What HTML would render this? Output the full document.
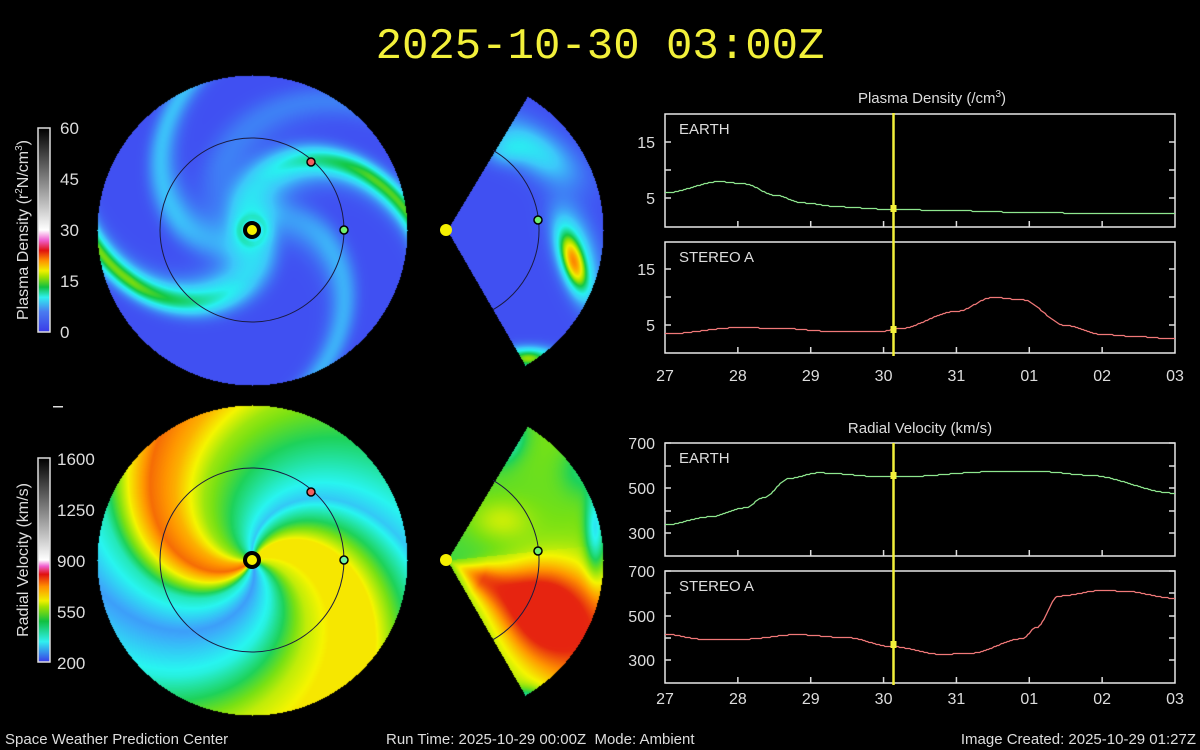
<!DOCTYPE html>
<html><head><meta charset="utf-8">
<style>
html,body{margin:0;padding:0;background:#000;}
#w{position:relative;width:1200px;height:750px;background:#000;overflow:hidden;font-family:"Liberation Sans",sans-serif;color:#ddd;}
canvas{position:absolute;left:0;top:0;}
svg{position:absolute;left:0;top:0;}
</style></head><body>
<div id="w">
<canvas id="c" width="1200" height="750"></canvas>
<svg id="s" width="1200" height="750" xmlns="http://www.w3.org/2000/svg" font-family="Liberation Sans, sans-serif">
<text x="600" y="58" fill="#f2f03a" font-family="Liberation Mono, monospace" font-size="44" text-anchor="middle">2025-10-30 03:00Z</text>
<defs>
<linearGradient id="gd" x1="0" y1="1" x2="0" y2="0">
<stop offset="0" stop-color="#3a3ae8"/><stop offset="0.1" stop-color="#4a7cf0"/><stop offset="0.17" stop-color="#30f0f0"/><stop offset="0.22" stop-color="#10c040"/><stop offset="0.27" stop-color="#a0e000"/><stop offset="0.3" stop-color="#f0f000"/><stop offset="0.35" stop-color="#ff9000"/><stop offset="0.4" stop-color="#e01010"/><stop offset="0.45" stop-color="#f060d0"/><stop offset="0.5" stop-color="#ffffff"/><stop offset="1" stop-color="#000000"/>
</linearGradient>
<linearGradient id="gv" x1="0" y1="1" x2="0" y2="0">
<stop offset="0" stop-color="#3a3ae8"/><stop offset="0.1" stop-color="#30f0f0"/><stop offset="0.2" stop-color="#10c040"/><stop offset="0.27" stop-color="#a0e000"/><stop offset="0.3" stop-color="#f0f000"/><stop offset="0.37" stop-color="#ff9000"/><stop offset="0.43" stop-color="#e01010"/><stop offset="0.47" stop-color="#f060d0"/><stop offset="0.5" stop-color="#ffffff"/><stop offset="1" stop-color="#000000"/>
</linearGradient>
</defs>
<rect x="38" y="128" width="12" height="204" fill="url(#gd)" stroke="#ddd" stroke-width="1.5"/>
<g fill="#ddd" font-size="17">
<text x="60" y="134">60</text><text x="60" y="185">45</text><text x="60" y="236">30</text><text x="60" y="287">15</text><text x="60" y="338">0</text>
</g>
<text transform="translate(28,230) rotate(-90)" fill="#ddd" font-size="16" text-anchor="middle">Plasma Density (r<tspan dy="-6" font-size="10">2</tspan><tspan dy="6">N/cm</tspan><tspan dy="-6" font-size="10">3</tspan><tspan dy="6">)</tspan></text>
<rect x="53" y="406" width="10" height="1.5" fill="#ddd"/>
<rect x="38" y="458" width="12" height="204" fill="url(#gv)" stroke="#ddd" stroke-width="1.5"/>
<g fill="#ddd" font-size="17">
<text x="57" y="465">1600</text><text x="57" y="516">1250</text><text x="57" y="567">900</text><text x="57" y="618">550</text><text x="57" y="669">200</text>
</g>
<text transform="translate(28,560) rotate(-90)" fill="#ddd" font-size="16" text-anchor="middle">Radial Velocity (km/s)</text>
<g fill="none" stroke="#1a1a40" stroke-width="1">
<circle cx="252" cy="230" r="92"/><circle cx="252" cy="560" r="92"/>
<path d="M 493 150.3 A 92 92 0 0 1 493 309.7"/>
<path d="M 493 480.3 A 92 92 0 0 1 493 639.7"/>
</g>
<g stroke="#000" stroke-width="1.5">
<circle cx="252" cy="230" r="7" fill="#f5f000" stroke-width="4"/>
<circle cx="311" cy="162" r="4" fill="#f06060"/>
<circle cx="344" cy="230" r="4" fill="#70f070"/>
<circle cx="538" cy="220" r="4" fill="#70f070"/>
<circle cx="252" cy="560" r="7" fill="#f5f000" stroke-width="4"/>
<circle cx="311" cy="492" r="4" fill="#f06060"/>
<circle cx="344" cy="560" r="4" fill="#70f0a0"/>
<circle cx="538" cy="551" r="4" fill="#70f070"/>
</g>
<circle cx="446" cy="230" r="6" fill="#f5f000"/>
<circle cx="446" cy="560" r="6" fill="#f5f000"/>
<g id="plots"></g>
<g fill="#ddd" font-size="15">
<text x="932" y="103" text-anchor="middle">Plasma Density (/cm<tspan dy="-6" font-size="10">3</tspan><tspan dy="6">)</tspan></text>
<text x="920" y="433" text-anchor="middle">Radial Velocity (km/s)</text>
<text x="5" y="744">Space Weather Prediction Center</text>
<text x="386" y="744">Run Time: 2025-10-29 00:00Z&#160;&#160;Mode: Ambient</text>
<text x="1196" y="744" text-anchor="end">Image Created: 2025-10-29 01:27Z</text>
</g>
</svg>
</div>
<script>
(function(){
var cv=document.getElementById('c'),ctx=cv.getContext('2d');
var img=ctx.createImageData(1200,750),D=img.data;
function lerpmap(stops,v){
 if(v<=stops[0][0])return stops[0][1];
 for(var i=1;i<stops.length;i++){if(v<=stops[i][0]){var a=stops[i-1],b=stops[i],t=(v-a[0])/(b[0]-a[0]);return [a[1][0]+(b[1][0]-a[1][0])*t,a[1][1]+(b[1][1]-a[1][1])*t,a[1][2]+(b[1][2]-a[1][2])*t];}}
 return stops[stops.length-1][1];}
var dmap=[[0,[50,50,230]],[3,[64,80,242]],[6,[60,200,250]],[8,[40,240,240]],[11,[20,200,70]],[13,[150,225,0]],[15,[240,240,0]],[18,[255,150,0]],[22,[225,30,20]],[27,[240,100,210]],[30,[255,255,255]],[60,[0,0,0]]];
var vmap=[[200,[55,55,235]],[300,[60,170,250]],[350,[40,245,240]],[430,[30,210,90]],[480,[120,225,20]],[550,[245,245,0]],[620,[255,150,0]],[700,[230,40,15]],[800,[230,20,20]],[870,[245,120,220]],[900,[255,255,255]],[1600,[0,0,0]]];
function put(x,y,c){var i=(y*1200+x)*4;D[i]=c[0];D[i+1]=c[1];D[i+2]=c[2];D[i+3]=255;}
function angd(a){a=a%(2*Math.PI);if(a>Math.PI)a-=2*Math.PI;if(a<-Math.PI)a+=2*Math.PI;return a;}
var k=0.0117,R=155;
for(var y=230-R;y<=230+R;y++)for(var x=252-R;x<=252+R;x++){
 var dx=x-252,dy=y-230,r=Math.sqrt(dx*dx+dy*dy);if(r>R)continue;
 var th=Math.atan2(dy,dx),ph=th-k*r,v=3;
 var arms=[[69,5.5,18,1],[249,5,18,1],[140,2.8,22,0],[320,2.4,22,0],[200,1.2,30,0]];
 for(var j=0;j<arms.length;j++){var a=arms[j];var d=Math.abs(angd(ph-a[0]*Math.PI/180))*Math.max(r,12);
  var g=Math.exp(-Math.pow(d/a[2],2));
  if(a[3]){var grow=Math.min(1,Math.max(0,(r-50)/80));v+=a[1]*g*grow+4*Math.exp(-Math.pow(d/26,2))*Math.min(1,r/15);}
  else v+=a[1]*g*Math.min(1,0.5+r/150);}
 put(x,y,lerpmap(dmap,v));}
var vph=[[0,520],[40,360],[75,290],[105,380],[125,560],[140,650],[160,600],[185,500],[215,430],[240,370],[262,320],[285,440],[305,560],[340,560],[360,520]];
var vs=vph.map(function(s){return [s[0],[s[1],0,0]];});
for(var y=560-R;y<=560+R;y++)for(var x=252-R;x<=252+R;x++){
 var dx=x-252,dy=y-560,r=Math.sqrt(dx*dx+dy*dy);if(r>R)continue;
 var th=Math.atan2(dy,dx),ph=(th-0.0105*r)*180/Math.PI;ph=((ph%360)+360)%360;
 var v=lerpmap(vs,ph)[0];
 put(x,y,lerpmap(vmap,v));}
var a1=-59*Math.PI/180,a2=60*Math.PI/180,WR=156;
function blob(x,y,cx,cy,wx,wy,rot){var c=Math.cos(rot),s=Math.sin(rot);var u=(x-cx)*c+(y-cy)*s,w=-(x-cx)*s+(y-cy)*c;return Math.exp(-(u*u/(wx*wx)+w*w/(wy*wy)));}
for(var y=60;y<=400;y++)for(var x=447;x<=605;x++){
 var dx=x-447,dy=y-230,r=Math.sqrt(dx*dx+dy*dy),th=Math.atan2(dy,dx);if(r>WR||th<a1||th>a2)continue;
 var v=3+4*blob(x,y,535,150,45,20,0.6)+2.5*blob(x,y,505,150,20,14,0)+12*blob(x,y,573,262,11,30,-0.3)+4*blob(x,y,576,250,18,45,-0.3)+10*blob(x,y,528,358,25,10,0);
 put(x,y,lerpmap(dmap,v));}
for(var y=390;y<=730;y++)for(var x=447;x<=605;x++){
 var dx=x-447,dy=y-560,r=Math.sqrt(dx*dx+dy*dy),th=Math.atan2(dy,dx);if(r>WR||th<a1||th>a2)continue;
 var ray=Math.exp(-Math.pow((th-0.5)/0.4,2));
 var v=480+190*ray*Math.min(1,r/40)+140*blob(x,y,545,610,40,50,0)+60*blob(x,y,500,520,30,20,0)-120*blob(x,y,505,440,18,25,0.5)-150*blob(x,y,595,530,10,45,0)-60*blob(x,y,580,470,20,25,0)-150*blob(x,y,525,700,22,12,0);
 if(th<-0.1) v-=30*(1-r/WR);
 v=Math.min(v,720);
 put(x,y,lerpmap(vmap,v));}
ctx.putImageData(img,0,0);

var P=document.getElementById('plots'),h='';
var X0=665,X1=1175,sx=(X1-X0)/7,tx=[];for(var i=0;i<8;i++)tx.push(X0+i*sx);
function panel(t,b,lab,ticks){
 h+='<rect x="665" y="'+t+'" width="510" height="'+(b-t)+'" fill="none" stroke="#e8e8e8" stroke-width="1.5"/>';
 h+='<text x="679" y="'+(t+20)+'" fill="#ddd" font-size="15">'+lab+'</text>';
 for(var i=1;i<7;i++)h+='<line x1="'+tx[i]+'" x2="'+tx[i]+'" y1="'+b+'" y2="'+(b-6)+'" stroke="#ddd" stroke-width="1.5"/>';
 ticks.forEach(function(q){h+='<line x1="665" x2="671" y1="'+q[0]+'" y2="'+q[0]+'" stroke="#ddd" stroke-width="1.5"/><line x1="1169" x2="1175" y1="'+q[0]+'" y2="'+q[0]+'" stroke="#ddd" stroke-width="1.5"/>';
  if(q[1])h+='<text x="655" y="'+(q[0]+6)+'" fill="#ddd" font-size="16" text-anchor="end">'+q[1]+'</text>';});
}
function interp(pts,d){
 for(var i=1;i<pts.length;i++){if(d<=pts[i][0]){var a=pts[i-1],b=pts[i],t=(d-a[0])/(b[0]-a[0]);t=t*t*(3-2*t);return a[1]+(b[1]-a[1])*t;}}
 return pts[pts.length-1][1];}
function curve(pts,yf,col){
 var s='';for(var d=0;d<=7.0001;d+=0.02){var v=interp(pts,d);s+=(s?'L':'M')+(X0+d*sx).toFixed(1)+' '+Math.round(yf(v))+'.5';}
 h+='<path d="'+s+'" fill="none" stroke="'+col+'" stroke-width="1.3"/>';
}
function dy1(v){return 226-v*5.6;} function dy2(v){return 353-v*5.6;}
function vy1(v){return 556-(v-200)*0.226;} function vy2(v){return 683-(v-200)*0.224;}
panel(114,227,'EARTH',[[142,'15'],[170,''],[198,'5']]);
panel(242,353,'STEREO A',[[269,'15'],[297,''],[325,'5']]);
panel(443,556,'EARTH',[[443,'700'],[466,''],[488,'500'],[511,''],[533,'300']]);
panel(571,683,'STEREO A',[[571,'700'],[593,''],[616,'500'],[638,''],[660,'300']]);
curve([[0,6],[0.75,8],[1.1,7.6],[1.5,5.6],[1.9,4.2],[2.4,3.5],[3.0,3.1],[4,2.8],[5,2.5],[6,2.3],[7,2.4]],dy1,'#8ee68e');
curve([[0,3.5],[1.0,4.6],[1.6,4.5],[2.2,4.0],[3.0,4.0],[3.2,4.4],[4.0,7.5],[4.5,10],[4.9,9.6],[5.5,5],[6,3.4],[6.5,3],[7,2.6]],dy2,'#f07878');
curve([[0,340],[0.6,375],[1.1,415],[1.35,460],[1.7,545],[2.1,570],[3.0,553],[3.2,552],[4.5,575],[5.2,575],[5.8,560],[7,480]],vy1,'#8ee68e');
curve([[0,420],[0.5,398],[1.1,398],[1.8,418],[2.5,405],[3.1,365],[3.8,330],[4.2,335],[4.9,400],[5.1,450],[5.4,590],[6.0,615],[6.3,612],[7,580]],vy2,'#f07878');
var labs=['27','28','29','30','31','01','02','03'];
labs.forEach(function(l,i){h+='<text x="'+tx[i]+'" y="381" fill="#ddd" font-size="16" text-anchor="middle">'+l+'</text><text x="'+tx[i]+'" y="704" fill="#ddd" font-size="16" text-anchor="middle">'+l+'</text>';});
var yl=893.5;
h+='<line x1="'+yl+'" x2="'+yl+'" y1="113" y2="356" stroke="#f2f03a" stroke-width="2.5"/><line x1="'+yl+'" x2="'+yl+'" y1="443" y2="685" stroke="#f2f03a" stroke-width="2.5"/>';
h+='<rect x="890.5" y="205" width="6" height="7" fill="#f2f03a"/><rect x="890.5" y="326" width="6" height="7" fill="#f2f03a"/><rect x="890.5" y="472" width="6" height="7" fill="#f2f03a"/><rect x="890.5" y="641" width="6" height="7" fill="#f2f03a"/>';
P.innerHTML=h;
})();
</script>
</body></html>
